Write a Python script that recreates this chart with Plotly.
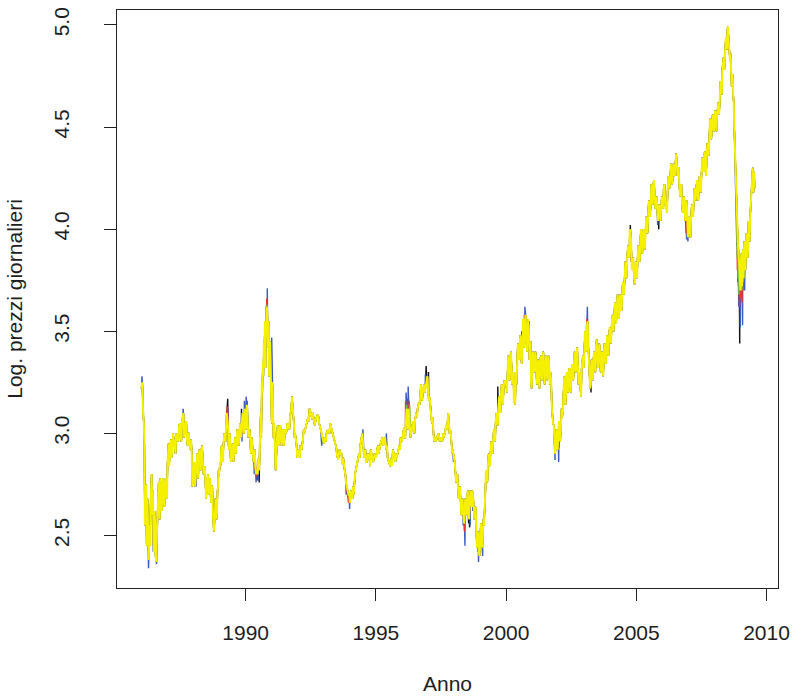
import plotly.graph_objects as go

# ---- data (year, log price) ----
anni = [
 1986.00,1986.03,1986.06,1986.09,1986.12,1986.15,1986.18,1986.21,1986.25,1986.28,1986.31,1986.35,1986.39,1986.42,1986.46,1986.50,1986.54,1986.57,1986.60,1986.64,1986.68,1986.72,1986.76,1986.80,1986.85,1986.90,1986.95,
 1987.00,1987.04,1987.08,1987.13,1987.18,1987.23,1987.28,1987.33,1987.38,1987.44,1987.50,1987.56,1987.61,1987.66,1987.70,1987.74,1987.79,1987.84,1987.89,1987.93,1987.97,
 1988.00,1988.04,1988.08,1988.12,1988.16,1988.20,1988.25,1988.30,1988.35,1988.40,1988.45,1988.50,1988.55,1988.60,1988.65,1988.70,1988.74,1988.78,1988.82,1988.86,1988.90,1988.94,1988.98,
 1989.02,1989.06,1989.10,1989.15,1989.20,1989.25,1989.29,1989.33,1989.37,1989.41,1989.45,1989.50,1989.55,1989.60,1989.65,1989.70,1989.75,1989.80,1989.85,1989.90,1989.95,
 1990.00,1990.04,1990.08,1990.12,1990.17,1990.22,1990.27,1990.32,1990.37,1990.42,1990.46,1990.50,1990.54,1990.58,1990.62,1990.66,1990.70,1990.74,1990.77,1990.80,1990.83,1990.86,1990.89,1990.92,1990.95,1990.98,
 1991.02,1991.05,1991.09,1991.13,1991.17,1991.21,1991.25,1991.30,1991.35,1991.40,1991.45,1991.50,1991.55,1991.60,1991.65,1991.70,1991.75,1991.80,1991.85,1991.90,1991.95,
 1992.00,1992.05,1992.10,1992.15,1992.20,1992.25,1992.30,1992.35,1992.40,1992.45,1992.50,1992.55,1992.60,1992.65,1992.70,1992.76,1992.82,1992.88,1992.95,
 1993.00,1993.05,1993.10,1993.16,1993.22,1993.28,1993.33,1993.38,1993.44,1993.50,1993.55,1993.60,1993.65,1993.70,1993.75,1993.80,1993.85,1993.90,1993.95,
 1994.00,1994.05,1994.10,1994.15,1994.20,1994.25,1994.30,1994.35,1994.40,1994.45,1994.50,1994.55,1994.60,1994.65,1994.70,1994.75,1994.80,1994.85,1994.90,1994.95,
 1995.00,1995.05,1995.10,1995.15,1995.20,1995.25,1995.30,1995.35,1995.40,1995.45,1995.50,1995.55,1995.60,1995.65,1995.70,1995.75,1995.80,1995.85,1995.90,1995.95,
 1996.00,1996.05,1996.10,1996.15,1996.20,1996.25,1996.30,1996.35,1996.40,1996.45,1996.50,1996.55,1996.60,1996.65,1996.70,1996.75,1996.80,1996.85,1996.90,1996.95,
 1997.00,1997.05,1997.10,1997.15,1997.20,1997.25,1997.30,1997.35,1997.40,1997.45,1997.50,1997.55,1997.60,1997.65,1997.70,1997.75,1997.80,1997.85,1997.90,1997.95,
 1998.00,1998.05,1998.10,1998.15,1998.20,1998.25,1998.30,1998.35,1998.40,1998.45,1998.50,1998.55,1998.60,1998.65,1998.70,1998.75,1998.80,1998.85,1998.90,1998.95,
 1999.00,1999.05,1999.10,1999.15,1999.20,1999.25,1999.30,1999.35,1999.40,1999.45,1999.50,1999.55,1999.60,1999.65,1999.70,1999.75,1999.80,1999.85,1999.90,1999.95,
 2000.00,2000.05,2000.10,2000.15,2000.20,2000.25,2000.30,2000.33,2000.37,2000.42,2000.47,2000.52,2000.57,2000.62,2000.67,2000.72,2000.77,2000.82,2000.87,2000.92,2000.96,
 2001.00,2001.05,2001.10,2001.15,2001.20,2001.25,2001.30,2001.35,2001.40,2001.45,2001.50,2001.55,2001.60,2001.65,2001.70,2001.75,2001.80,2001.85,2001.90,2001.95,
 2002.00,2002.05,2002.10,2002.15,2002.20,2002.25,2002.30,2002.35,2002.40,2002.45,2002.50,2002.55,2002.60,2002.65,2002.70,2002.75,2002.80,2002.85,2002.90,2002.95,
 2003.00,2003.05,2003.10,2003.15,2003.20,2003.25,2003.30,2003.35,2003.40,2003.45,2003.50,2003.55,2003.60,2003.65,2003.70,2003.75,2003.80,2003.85,2003.90,2003.95,
 2004.00,2004.05,2004.10,2004.15,2004.20,2004.25,2004.30,2004.35,2004.40,2004.45,2004.50,2004.55,2004.60,2004.65,2004.70,2004.75,2004.80,2004.85,2004.90,2004.95,
 2005.00,2005.05,2005.10,2005.15,2005.20,2005.25,2005.30,2005.35,2005.40,2005.45,2005.50,2005.55,2005.60,2005.65,2005.70,2005.75,2005.80,2005.85,2005.90,2005.95,
 2006.00,2006.05,2006.10,2006.15,2006.20,2006.25,2006.30,2006.35,2006.40,2006.45,2006.50,2006.55,2006.60,2006.65,2006.70,2006.75,2006.80,2006.85,2006.90,2006.95,
 2007.00,2007.05,2007.10,2007.15,2007.20,2007.25,2007.30,2007.35,2007.40,2007.45,2007.50,2007.55,2007.60,2007.65,2007.70,2007.75,2007.80,2007.85,2007.90,2007.95,
 2008.00,2008.05,2008.10,2008.15,2008.20,2008.25,2008.30,2008.35,2008.40,2008.45,2008.50,2008.53,2008.56,2008.60,2008.64,2008.68,2008.72,2008.76,2008.80,2008.84,2008.88,2008.92,2008.95,2008.98,
 2009.01,2009.04,2009.07,2009.10,2009.13,2009.17,2009.21,2009.25,2009.29,2009.33,2009.37,2009.41,2009.45,2009.48,2009.51,2009.54,
]

giallo = [
 3.22,3.25,3.10,3.05,2.85,2.62,2.75,2.55,2.48,2.38,2.55,2.65,2.80,2.60,2.50,2.62,2.40,2.37,2.55,2.72,2.62,2.78,2.66,2.74,2.68,2.76,2.70,
 2.85,2.95,2.90,2.97,2.92,2.98,2.94,3.00,2.97,3.03,3.00,3.07,3.10,3.03,3.05,2.98,3.00,2.95,2.97,2.90,2.80,
 2.76,2.84,2.80,2.88,2.84,2.90,2.86,2.92,2.88,2.82,2.78,2.72,2.80,2.76,2.70,2.74,2.62,2.52,2.60,2.66,2.62,2.74,2.80,
 2.86,2.92,2.88,2.95,2.98,3.04,3.08,3.02,2.94,2.90,2.88,2.95,2.92,2.98,2.96,3.00,2.97,3.02,3.04,3.08,3.05,
 3.10,3.14,3.05,3.00,2.96,2.98,2.92,2.88,2.84,2.82,2.80,2.88,2.96,3.10,3.25,3.35,3.45,3.55,3.48,3.62,3.60,3.42,3.50,3.30,3.38,3.20,
 3.25,3.10,3.05,2.92,2.86,3.00,2.95,3.02,2.98,3.00,2.96,3.02,3.00,3.05,3.03,3.08,3.12,3.15,3.05,3.00,2.95,
 2.90,2.92,2.94,2.92,2.97,3.00,3.03,3.06,3.08,3.12,3.10,3.07,3.08,3.04,3.07,3.09,3.05,3.02,2.98,
 2.95,2.98,3.00,3.02,3.00,3.03,3.00,2.98,2.95,2.90,2.87,2.92,2.90,2.85,2.88,2.82,2.76,2.72,2.70,
 2.66,2.72,2.68,2.70,2.80,2.84,2.86,2.90,2.94,2.98,2.96,2.88,2.92,2.86,2.90,2.88,2.92,2.88,2.86,2.90,
 2.88,2.92,2.90,2.94,2.96,2.98,2.95,2.98,2.92,2.88,2.86,2.84,2.88,2.92,2.90,2.86,2.88,2.92,2.94,2.98,
 2.96,3.00,2.98,3.05,3.10,3.12,3.05,3.00,3.04,3.02,3.06,3.10,3.12,3.15,3.18,3.22,3.20,3.24,3.22,3.26,
 3.22,3.18,3.12,3.05,3.00,2.98,2.96,2.98,3.00,2.96,2.98,2.96,2.98,3.00,3.04,3.08,3.06,3.02,2.96,2.92,
 2.88,2.82,2.78,2.74,2.70,2.68,2.64,2.62,2.58,2.64,2.68,2.62,2.66,2.70,2.72,2.66,2.62,2.55,2.48,2.42,
 2.46,2.52,2.48,2.55,2.70,2.78,2.84,2.86,2.90,2.92,2.96,3.00,3.06,3.08,3.12,3.15,3.18,3.22,3.20,3.24,
 3.26,3.30,3.35,3.32,3.36,3.28,3.15,3.20,3.30,3.34,3.40,3.44,3.38,3.42,3.50,3.54,3.50,3.48,3.52,3.42,3.25,
 3.30,3.36,3.38,3.34,3.30,3.28,3.34,3.32,3.36,3.33,3.30,3.35,3.32,3.34,3.30,3.15,3.05,2.98,2.92,2.96,
 2.98,3.00,3.02,3.08,3.18,3.22,3.20,3.25,3.28,3.26,3.28,3.30,3.32,3.36,3.38,3.35,3.28,3.22,3.32,3.38,
 3.42,3.48,3.52,3.44,3.28,3.24,3.32,3.36,3.34,3.42,3.40,3.38,3.40,3.36,3.32,3.38,3.42,3.40,3.44,3.46,
 3.48,3.52,3.56,3.58,3.60,3.62,3.66,3.60,3.64,3.66,3.70,3.76,3.80,3.86,3.90,4.00,3.94,3.84,3.78,3.74,
 3.80,3.86,3.90,3.94,3.98,3.92,3.96,3.98,4.02,4.06,4.12,4.16,4.18,4.22,4.18,4.12,4.10,4.06,4.08,4.10,
 4.14,4.20,4.16,4.12,4.18,4.24,4.28,4.30,4.26,4.28,4.32,4.34,4.30,4.22,4.18,4.14,4.10,4.12,4.08,4.10,
 4.00,3.98,4.04,4.10,4.14,4.18,4.20,4.18,4.22,4.20,4.26,4.32,4.36,4.30,4.34,4.40,4.48,4.52,4.50,4.54,
 4.56,4.52,4.56,4.62,4.68,4.72,4.78,4.84,4.88,4.94,4.98,4.96,4.88,4.82,4.76,4.72,4.66,4.50,4.32,4.15,4.00,3.90,3.80,3.72,
 3.80,3.74,3.84,3.78,3.88,3.82,3.92,3.96,3.90,4.00,4.06,4.18,4.26,4.22,4.28,4.20,
]

# daily ups and downs of the yellow band, read between the points above
picchi_anni = [
 1986.11,1986.13,1986.20,1986.23,1986.33,1986.37,1986.44,1986.48,1986.52,1986.62,1986.66,1986.70,1986.74,1986.78,1986.83,1986.88,1986.93,1986.98,
 1987.02,1987.06,1987.15,1987.21,1987.31,1987.41,1987.47,1987.53,1987.59,1987.64,1987.72,1987.77,1987.82,1987.87,1987.91,1987.95,
 1988.02,1988.06,1988.14,1988.18,1988.23,1988.28,1988.33,1988.38,1988.43,1988.48,1988.52,1988.58,1988.63,1988.68,1988.72,1988.76,1988.84,1988.88,1988.92,1988.96,
 1989.04,1989.08,1989.13,1989.18,1989.23,1989.27,1989.35,1989.39,1989.43,1989.48,1989.53,1989.58,1989.63,1989.68,1989.73,1989.78,1989.83,1989.88,1989.93,1989.98,
 1990.02,1990.06,1990.10,1990.15,1990.20,1990.25,1990.30,1990.35,1990.40,1990.48,1990.52,1990.56,1990.60,1990.64,1990.68,1990.72,1990.76,1990.79,1990.85,1990.88,1990.90,1990.94,1990.97,
 1991.00,1991.04,1991.07,1991.11,1991.15,1991.19,1991.23,1991.28,1991.33,1991.38,1991.43,1991.48,1991.58,1991.68,1991.78,1991.88,1991.98,
 1992.08,1992.23,1992.43,1992.58,1992.80,1993.08,1993.25,1993.48,1993.68,1993.83,1993.98,1994.12,1994.38,1994.48,1994.62,1994.78,1995.08,1995.28,1995.43,1995.62,1995.78,1995.93,
 1996.08,1996.13,1996.18,1996.23,1996.28,1996.33,1996.43,1996.48,1996.58,1996.68,1996.73,1996.78,1996.88,1996.98,
 1997.03,1997.08,1997.13,1997.18,1997.23,1997.43,1997.58,1997.73,1997.78,1997.83,1997.88,1997.93,
 1998.03,1998.08,1998.13,1998.18,1998.23,1998.28,1998.33,1998.38,1998.43,1998.48,1998.53,1998.58,1998.63,1998.68,1998.73,1998.78,1998.83,1998.88,1998.93,1998.98,
 1999.03,1999.08,1999.13,1999.18,1999.23,1999.28,1999.33,1999.38,1999.43,1999.48,1999.53,1999.58,1999.63,1999.68,1999.73,1999.78,1999.83,1999.88,1999.93,
 2000.03,2000.08,2000.13,2000.18,2000.23,2000.28,2000.35,2000.40,2000.45,2000.50,2000.55,2000.60,2000.65,2000.70,2000.75,2000.80,2000.85,2000.90,2000.94,2000.98,
 2001.03,2001.08,2001.13,2001.18,2001.23,2001.28,2001.33,2001.38,2001.43,2001.48,2001.53,2001.58,2001.63,2001.68,2001.73,2001.78,2001.83,2001.88,2001.93,2001.98,
 2002.03,2002.08,2002.13,2002.18,2002.23,2002.28,2002.33,2002.38,2002.43,2002.48,2002.53,2002.58,2002.63,2002.68,2002.73,2002.78,2002.83,2002.88,2002.93,2002.98,
 2003.03,2003.08,2003.13,2003.18,2003.23,2003.28,2003.33,2003.38,2003.43,2003.48,2003.53,2003.58,2003.63,2003.68,2003.73,2003.78,2003.83,2003.88,2003.93,2003.98,
 2004.03,2004.08,2004.13,2004.18,2004.23,2004.28,2004.33,2004.38,2004.43,2004.48,2004.53,2004.58,2004.63,2004.68,2004.73,2004.78,2004.83,2004.88,2004.93,2004.98,
 2005.03,2005.08,2005.13,2005.18,2005.23,2005.28,2005.33,2005.38,2005.43,2005.48,2005.53,2005.58,2005.63,2005.68,2005.73,2005.78,2005.83,2005.88,2005.93,2005.98,
 2006.03,2006.08,2006.13,2006.18,2006.23,2006.28,2006.33,2006.38,2006.43,2006.48,2006.53,2006.58,2006.63,2006.68,2006.73,2006.78,2006.83,2006.88,2006.93,2006.98,
 2007.03,2007.08,2007.13,2007.18,2007.23,2007.28,2007.33,2007.38,2007.43,2007.48,2007.53,2007.58,2007.63,2007.68,2007.73,2007.78,2007.83,2007.88,2007.93,2007.98,
 2008.03,2008.08,2008.13,2008.18,2008.23,2008.28,2008.33,2008.38,2008.43,2008.48,2008.52,2008.58,2008.62,2008.66,2008.70,2008.74,2008.78,2008.82,2008.86,2008.90,2008.94,2008.97,
 2009.00,2009.03,2009.06,2009.09,2009.12,2009.15,2009.19,2009.23,2009.27,2009.31,2009.35,2009.39,2009.43,2009.47,2009.50,2009.53,
]
picchi_val = [
 2.95,2.55,2.45,2.68,2.45,2.78,2.72,2.42,2.58,2.60,2.76,2.58,2.72,2.62,2.78,2.64,2.78,2.68,
 2.92,2.84,2.88,3.00,2.90,2.96,3.05,2.96,3.08,2.98,3.06,2.94,3.00,2.92,2.96,2.74,
 2.86,2.74,2.90,2.78,2.92,2.82,2.94,2.80,2.84,2.68,2.78,2.70,2.78,2.66,2.74,2.58,2.68,2.58,2.72,2.82,
 2.84,2.94,2.86,3.00,2.96,3.10,2.92,3.00,2.86,2.92,2.86,2.96,2.90,3.02,2.94,3.05,2.98,3.10,3.00,3.12,
 3.02,3.12,2.98,3.02,2.90,2.96,2.86,2.92,2.80,2.86,2.82,3.02,2.98,3.20,3.28,3.40,3.32,3.52,3.45,3.55,3.28,3.45,3.10,
 3.05,3.20,2.98,3.00,2.82,2.92,3.04,2.94,3.04,2.94,3.02,2.94,3.02,3.02,3.18,2.98,2.88,
 2.88,3.02,3.06,3.10,3.08,2.96,3.05,2.93,2.90,2.80,2.70,2.74,2.88,3.00,2.86,2.84,2.94,2.94,2.94,2.84,2.90,2.92,
 3.03,2.98,3.12,3.02,3.08,2.98,3.06,3.00,3.08,3.14,3.24,3.16,3.20,3.28,
 3.16,3.16,3.08,3.08,2.96,2.98,3.00,3.02,3.10,3.00,3.00,2.90,
 2.86,2.76,2.80,2.68,2.74,2.60,2.68,2.56,2.68,2.60,2.72,2.58,2.72,2.64,2.70,2.58,2.64,2.44,2.52,2.40,
 2.56,2.44,2.58,2.62,2.82,2.76,2.90,2.84,2.96,2.90,3.02,2.96,3.10,3.04,3.18,3.10,3.24,3.14,3.26,
 3.20,3.38,3.26,3.40,3.24,3.30,3.14,3.24,3.44,3.36,3.48,3.34,3.56,3.42,3.58,3.40,3.56,3.36,3.45,3.22,
 3.40,3.30,3.40,3.24,3.36,3.22,3.38,3.26,3.40,3.24,3.38,3.26,3.38,3.24,3.26,3.08,3.04,2.90,3.02,2.92,
 3.06,2.96,3.12,3.10,3.28,3.14,3.30,3.20,3.32,3.20,3.34,3.26,3.40,3.30,3.42,3.24,3.30,3.18,3.36,3.32,
 3.50,3.40,3.55,3.36,3.22,3.36,3.26,3.40,3.30,3.46,3.32,3.44,3.30,3.40,3.28,3.44,3.34,3.48,3.38,3.52,
 3.44,3.58,3.50,3.64,3.54,3.68,3.56,3.68,3.60,3.74,3.68,3.84,3.76,3.92,3.86,3.98,3.80,3.86,3.73,3.84,
 3.76,3.92,3.84,4.00,3.88,4.00,3.90,4.06,3.98,4.14,4.06,4.22,4.12,4.24,4.10,4.16,4.04,4.12,4.04,4.16,
 4.10,4.22,4.10,4.08,4.26,4.20,4.32,4.22,4.32,4.26,4.37,4.26,4.30,4.16,4.22,4.08,4.16,4.04,4.14,3.96,
 4.06,3.96,4.12,4.06,4.20,4.14,4.24,4.14,4.26,4.18,4.35,4.28,4.38,4.26,4.42,4.36,4.54,4.44,4.56,4.48,
 4.58,4.48,4.60,4.56,4.72,4.66,4.82,4.78,4.92,4.88,4.99,4.84,4.86,4.70,4.76,4.62,4.40,4.24,4.10,3.94,3.84,3.76,
 3.70,3.88,3.72,3.90,3.76,3.94,3.80,3.98,3.86,4.04,3.94,4.12,4.20,4.30,4.18,4.26,
]

# excursions where the other series stick out of the yellow band (year, value)
nero_anni  = [1986.56, 1987.60, 1989.31, 1989.84, 1989.95, 1990.44, 1990.52, 1991.96, 1996.20, 1996.93, 1997.02, 1998.31, 1998.56, 1998.60, 1999.68, 2000.60, 2000.88,
              2002.02, 2003.26, 2004.70, 2004.77, 2005.86, 2006.92, 2008.97]
nero_val   = [2.56,    3.08,    3.17,    3.12,    3.06,    2.77,    2.76,    2.88,    3.15,    3.33,    3.30,    2.60,    2.56,    2.54,    3.23,    3.50,    3.55,
              2.93,    3.20,    3.92,    4.02,    4.00,    3.98,    3.44]
blu_anni   = [1986.02, 1986.27, 1986.45, 1986.58, 1987.12, 1987.60, 1988.10, 1988.80, 1989.32, 1989.80, 1989.86, 1989.88, 1989.92, 1989.95, 1990.02, 1990.06, 1990.10, 1990.33, 1990.40, 1990.48,
              1990.70, 1990.79, 1990.83, 1991.00, 1991.12, 1991.82, 1992.92, 1993.86, 1993.99, 1994.50, 1995.40, 1996.12, 1996.16, 1996.20, 1996.24, 1996.74, 1996.90,
              1997.98, 1998.35, 1998.42, 1998.52, 1998.62, 1998.72, 1998.94, 1999.10, 2000.65, 2000.72, 2001.75, 2001.88, 2002.02,
              2003.05, 2003.12, 2004.72, 2005.82, 2005.86, 2006.90, 2006.93, 2006.98, 2008.86, 2008.90, 2008.93, 2008.99, 2009.02, 2009.08, 2009.12, 2009.16]
blu_val    = [3.28,    2.34,    2.42,    2.36,    2.90,    3.12,    2.74,    2.55,    3.12,    3.04,    2.96,    3.10,    3.02,    3.16,    3.18,    3.16,    3.00,    2.80,    2.76,    2.77,
              3.42,    3.62,    3.71,    3.47,    2.92,    3.12,    2.94,    2.70,    2.63,    3.02,    3.00,    3.02,    3.20,    3.17,    3.23,    3.24,    3.29,
              2.86,    2.55,    2.45,    2.60,    2.55,    2.62,    2.37,    2.40,    3.50,    3.62,    3.15,    2.87,    2.86,
              3.50,    3.62,    3.86,    4.02,    4.04,    4.02,    3.95,    3.94,    3.92,    3.74,    3.62,    3.52,    3.58,    3.53,    3.72,    3.70]
rosso_anni = [1986.04, 1986.28, 1986.46, 1987.58, 1988.78, 1989.30, 1989.87, 1989.90, 1990.35, 1990.42, 1990.75, 1990.81, 1993.95, 1996.14, 1996.22, 1996.28, 1996.92,
              1998.36, 1998.40, 1998.54, 1998.92, 1998.96, 2000.70, 2001.86, 2003.08, 2003.10, 2004.80, 2005.84, 2006.94, 2006.96,
              2008.88, 2008.92, 2008.96, 2009.00, 2009.06, 2009.10]
rosso_val  = [3.24,    2.40,    2.45,    3.06,    2.56,    3.13,    3.00,    3.06,    2.82,    2.79,    3.45,    3.66,    2.66,    3.16,    3.14,    3.16,    3.27,
              2.58,    2.52,    2.62,    2.42,    2.40,    3.58,    2.90,    3.48,    3.56,    3.84,    4.04,    3.98,    3.98,
              3.80,    3.72,    3.62,    3.66,    3.64,    3.70]
verde_anni = [1986.05, 1986.30, 1986.47, 1988.79, 1989.89, 1990.36, 1990.76, 1990.82, 1996.18, 1996.30, 1998.37, 1998.39, 1998.93, 1998.97, 2001.87, 2003.09,
              2005.85, 2006.97, 2008.87, 2008.91, 2008.94, 2009.02, 2009.05, 2009.11]
verde_val  = [3.20,    2.42,    2.48,    2.58,    3.02,    2.84,    3.50,    3.63,    3.14,    3.14,    2.60,    2.56,    2.46,    2.44,    2.92,    3.46,
              4.06,    4.00,    3.86,    3.76,    3.68,    3.72,    3.70,    3.74]

colori = {"nero": "#111111", "blu": "#3B5CC2", "rosso": "#EE3030", "verde": "#6CC244", "giallo": "#F4F000"}

base = sorted(list(zip(anni, giallo)) + list(zip(picchi_anni, picchi_val)))


def serie(extra_x, extra_y):
    pts = sorted(base + list(zip(extra_x, extra_y)))
    return [p[0] for p in pts], [p[1] for p in pts]


fig = go.Figure()
for nome, ex, ey in [("nero", nero_anni, nero_val), ("blu", blu_anni, blu_val),
                     ("rosso", rosso_anni, rosso_val), ("verde", verde_anni, verde_val)]:
    xs, ys = serie(ex, ey)
    fig.add_trace(go.Scatter(x=xs, y=ys, mode="lines", name=nome,
                             line=dict(color=colori[nome], width=1.4)))
fig.add_trace(go.Scatter(x=[p[0] for p in base], y=[p[1] for p in base], mode="lines",
                         name="giallo", line=dict(color=colori["giallo"], width=2.0)))

font = dict(family="Liberation Sans, Arial, sans-serif", size=21, color="#1e1e1e")
fig.update_layout(
    width=797, height=698,
    margin=dict(l=117, r=16, t=7, b=108),
    paper_bgcolor="white", plot_bgcolor="white",
    showlegend=False, font=font,
)
fig.update_xaxes(
    range=[1985.06, 2010.44], tickvals=[1990, 1995, 2000, 2005, 2010],
    ticks="outside", ticklen=12, tickwidth=1.2, tickcolor="#222",
    showline=True, linecolor="#222", linewidth=1.3, mirror=True,
    showgrid=False, zeroline=False, ticklabelstandoff=14,
    title=dict(text="Anno", standoff=32, font=font),
)
fig.update_yaxes(
    range=[2.243, 5.073], tickvals=[2.5, 3.0, 3.5, 4.0, 4.5, 5.0],
    ticktext=["2.5", "3.0", "3.5", "4.0", "4.5", "5.0"], tickangle=-90,
    ticks="outside", ticklen=12, tickwidth=1.2, tickcolor="#222",
    showline=True, linecolor="#222", linewidth=1.3, mirror=True,
    showgrid=False, zeroline=False, ticklabelstandoff=26,
    title=dict(text="Log. prezzi giornalieri", standoff=22, font=font),
)
fig.write_html("out.html")
